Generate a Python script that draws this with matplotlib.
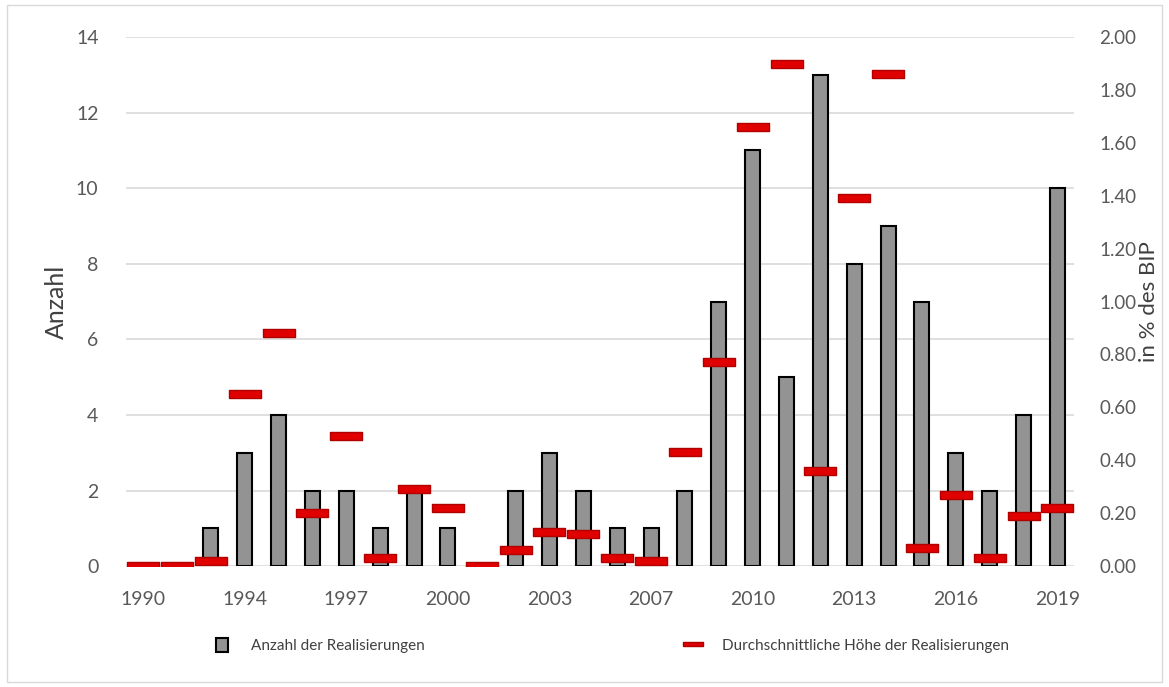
import matplotlib.pyplot as plt
import numpy as np
from matplotlib.patches import Rectangle
from matplotlib.lines import Line2D
from matplotlib.patches import Patch

# Kategorien (28 Jahre, nur jede dritte beschriftet)
tick_labels = ["1990", "", "", "1994", "", "", "1997", "", "", "2000", "", "", "2003", "", "",
               "2007", "", "", "2010", "", "", "2013", "", "", "2016", "", "", "2019"]

# Anzahl der Realisierungen (linke Achse)
anzahl = [0, 0, 1, 3, 4, 2, 2, 1, 2, 1, 0, 2, 3, 2, 1, 1, 2, 7, 11, 5, 13, 8, 9, 7, 3, 2, 4, 10]

# Durchschnittliche Höhe in % des BIP (rechte Achse)
hoehe = [0.00, 0.00, 0.02, 0.65, 0.88, 0.20, 0.49, 0.03, 0.29, 0.22, 0.00, 0.06, 0.13, 0.12,
         0.03, 0.02, 0.43, 0.77, 1.66, 1.90, 0.36, 1.39, 1.86, 0.07, 0.27, 0.03, 0.19, 0.22]

plt.rcParams['font.family'] = ['Lato', 'DejaVu Sans']

fig = plt.figure(figsize=(11.69, 6.87), dpi=100)
ax = fig.add_axes([0.108, 0.176, 0.811, 0.77])
ax2 = ax.twinx()

x = np.arange(len(anzahl))
ax.bar(x, anzahl, width=0.44, color='#939393', edgecolor='black', linewidth=1.5, zorder=3)

# rote Striche als Rechteck-Marker
dash = [(-2.0, -0.5), (2.0, -0.5), (2.0, 0.5), (-2.0, 0.5), (-2.0, -0.5)]
ax2.plot(x, hoehe, linestyle='none', marker=dash, markersize=23,
         markerfacecolor='#e00000', markeredgecolor='#b00000', markeredgewidth=1, zorder=4)

ax.set_xlim(-0.5, len(anzahl) - 0.5)
ax.set_ylim(0, 14)
ax2.set_ylim(0, 2)
ax.set_yticks(np.arange(0, 15, 2))
ax2.set_yticks(np.arange(0, 2.01, 0.2))
ax2.set_yticklabels([f"{v:.2f}" for v in np.arange(0, 2.01, 0.2)])
ax.set_xticks(x)
ax.set_xticklabels(tick_labels)

ax.grid(axis='y', color='#d9d9d9', linewidth=1.2, zorder=0)
ax.set_axisbelow(True)
for a in (ax, ax2):
    for s in a.spines.values():
        s.set_visible(False)
    a.tick_params(length=0, labelsize=14, labelcolor='#595959')
ax.tick_params(axis='y', pad=20)
ax.tick_params(axis='x', pad=18)
ax2.tick_params(axis='y', pad=18, labelsize=13.5)

ax.set_ylabel('Anzahl', fontsize=18, color='#404040', labelpad=6)
ax2.set_ylabel('in % des BIP', fontsize=16, color='#404040', labelpad=2)

handles = [Patch(facecolor='#939393', edgecolor='black', linewidth=1.5),
           Line2D([], [], linestyle='none', marker=dash, markersize=14,
                  markerfacecolor='#e00000', markeredgecolor='#b00000')]
fig.legend(handles, ['Anzahl der Realisierungen', 'Durchschnittliche Höhe der Realisierungen'],
           loc='center', bbox_to_anchor=(0.524, 0.06), ncol=2, frameon=False,
           fontsize=11, labelcolor='#404040', columnspacing=17.2, handlelength=0.8,
           handleheight=1.0, handletextpad=1.5)

fig.patches.append(Rectangle((0.006, 0.008), 0.988, 0.985, transform=fig.transFigure,
                             fill=False, edgecolor='#d9d9d9', linewidth=1))

fig.savefig('out.png', dpi=100)
